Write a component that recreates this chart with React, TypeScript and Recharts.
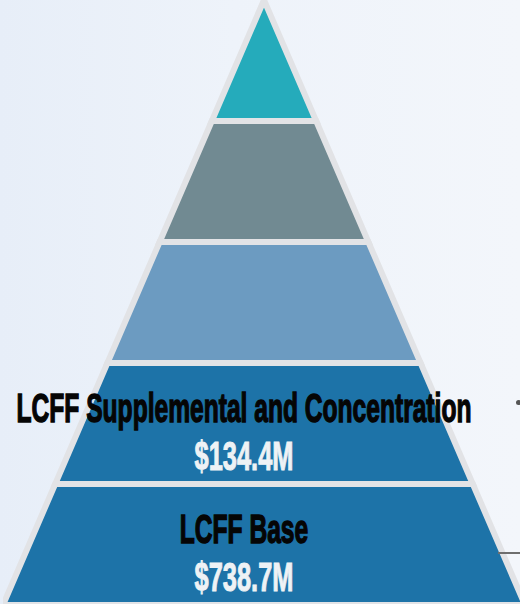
import { Funnel, FunnelChart } from "recharts";

// tiers listed bottom first (the funnel is reversed into a pyramid)
const tierNames = ["LCFF Base", "LCFF Supplemental and Concentration", "", "", ""];
const tierAmounts = ["$738.7M", "$134.4M", "", "", ""];
const tierWidths = [5, 4, 3, 2, 1];
const tierColors = ["#1d73a8", "#1d73a8", "#6c9bc1", "#718a92", "#25abbb"];

const data = tierNames.map((name, i) => ({
  name,
  amount: tierAmounts[i],
  width: tierWidths[i],
  fill: tierColors[i],
}));

const GAP = "#e2e3e6";
const FONT = "'Liberation Sans', Arial, sans-serif";

function Tier(props: any) {
  const { x, y, upperWidth, lowerWidth, height, fill } = props;
  const entry = props.payload ?? props;
  const cx = x + upperWidth / 2;
  const d = `M${x},${y}L${x + upperWidth},${y}L${cx + lowerWidth / 2},${y + height}L${cx - lowerWidth / 2},${y + height}Z`;
  const lx = cx - 20;
  return (
    <g>
      <path d={d} fill={fill} stroke={GAP} strokeWidth={6} strokeLinejoin="miter" />
      {entry.name ? (
        <text
          transform={`translate(${lx} ${y + height * 0.488}) scale(0.615 1)`}
          textAnchor="middle"
          fontFamily={FONT}
          fontWeight={700}
          fontSize={40}
          fill="#050505"
          stroke="#050505"
          strokeWidth={1.4}
        >
          {entry.name}
        </text>
      ) : null}
      {entry.amount ? (
        <text
          transform={`translate(${lx} ${y + height * 0.888}) scale(0.62 1)`}
          textAnchor="middle"
          fontFamily={FONT}
          fontWeight={700}
          fontSize={41}
          fill="#eef2f5"
          stroke="#eef2f5"
          strokeWidth={1}
        >
          {entry.amount}
        </text>
      ) : null}
    </g>
  );
}

export default function App() {
  return (
    <div
      style={{
        position: "fixed",
        left: 0,
        top: 0,
        width: 520,
        height: 604,
        overflow: "hidden",
        background: "linear-gradient(90deg, #e7eef8 0%, #eef3fa 45%, #f3f6fb 100%)",
      }}
    >
      <div style={{ position: "absolute", left: 2.5, top: 0 }}>
        <FunnelChart
          width={522}
          height={605}
          margin={{ top: 0, right: 0, bottom: 0, left: 0 }}
          style={{ overflow: "visible" }}
        >
          <Funnel
            data={data}
            dataKey="width"
            nameKey="name"
            reversed
            lastShapeType="triangle"
            shape={Tier}
            isAnimationActive={false}
          />
        </FunnelChart>
      </div>
      <div style={{ position: "absolute", left: 516, top: 400, width: 5, height: 5, borderRadius: 3, background: "#555" }} />
      <div style={{ position: "absolute", left: 498, top: 552, width: 22, height: 2, background: "#6e6e6e" }} />
    </div>
  );
}
